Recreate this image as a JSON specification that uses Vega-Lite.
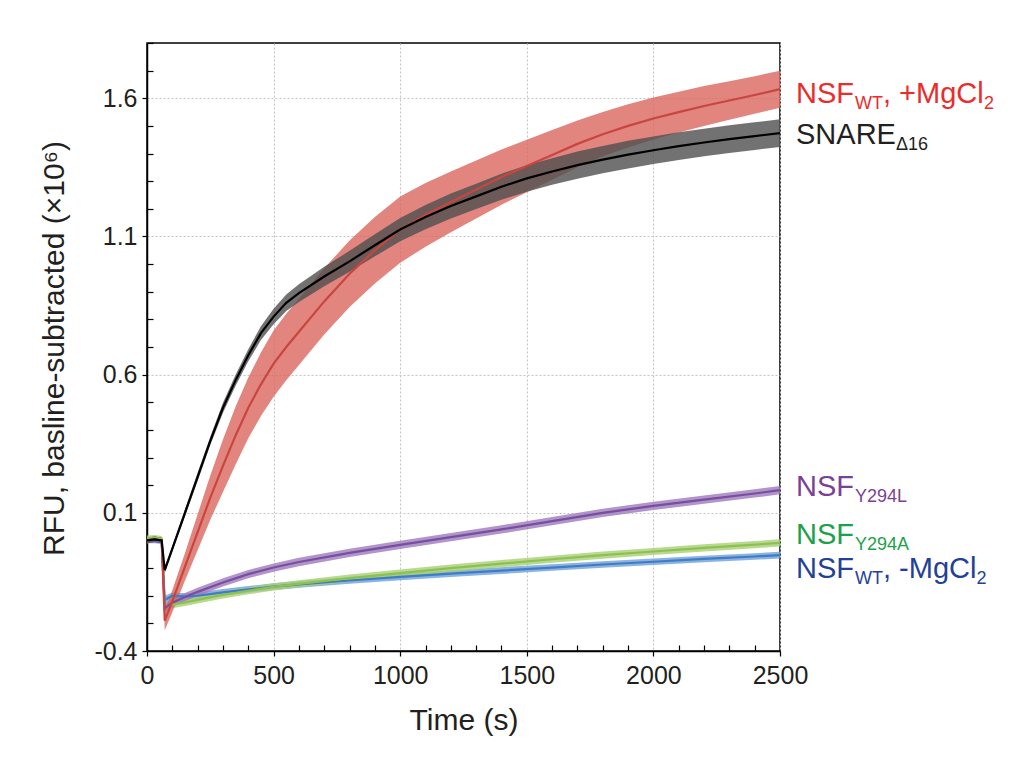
{
  "$schema": "https://vega.github.io/schema/vega-lite/v6.json",
  "width": 633,
  "height": 608,
  "autosize": {"type": "none"},
  "padding": {"left": 147, "top": 43, "right": 249, "bottom": 113},
  "background": "white",
  "config": {
    "font": "Liberation Sans",
    "view": {"stroke": "#000", "strokeWidth": 1.5},
    "axis": {
      "domainColor": "#000", "domainWidth": 1.5, "tickColor": "#000", "tickWidth": 1.2,
      "labelColor": "#231f20", "titleColor": "#231f20", "labelFont": "Liberation Sans",
      "titleFont": "Liberation Sans", "titleFontWeight": "normal",
      "gridColor": "#c4c4c4", "gridDash": [2, 2], "gridWidth": 1
    }
  },
  "datasets": {
    "curves": [
      {"s":"blue","t":0,"v":0.0,"sd":0.01},{"s":"blue","t":30,"v":0.0,"sd":0.01},{"s":"blue","t":58,"v":-0.003,"sd":0.01},{"s":"blue","t":70,"v":-0.215,"sd":0.015},{"s":"blue","t":100,"v":-0.2,"sd":0.012},{"s":"blue","t":150,"v":-0.203,"sd":0.012},{"s":"blue","t":200,"v":-0.2,"sd":0.012},{"s":"blue","t":300,"v":-0.188,"sd":0.012},{"s":"blue","t":400,"v":-0.177,"sd":0.012},{"s":"blue","t":500,"v":-0.167,"sd":0.012},{"s":"blue","t":600,"v":-0.159,"sd":0.012},{"s":"blue","t":800,"v":-0.145,"sd":0.012},{"s":"blue","t":1000,"v":-0.132,"sd":0.012},{"s":"blue","t":1200,"v":-0.12,"sd":0.012},{"s":"blue","t":1400,"v":-0.109,"sd":0.012},{"s":"blue","t":1600,"v":-0.098,"sd":0.012},{"s":"blue","t":1800,"v":-0.087,"sd":0.012},{"s":"blue","t":2000,"v":-0.077,"sd":0.012},{"s":"blue","t":2200,"v":-0.067,"sd":0.012},{"s":"blue","t":2400,"v":-0.058,"sd":0.012},{"s":"blue","t":2500,"v":-0.053,"sd":0.012},
      {"s":"green","t":0,"v":0.008,"sd":0.01},{"s":"green","t":30,"v":0.01,"sd":0.01},{"s":"green","t":58,"v":0.006,"sd":0.01},{"s":"green","t":70,"v":-0.24,"sd":0.013},{"s":"green","t":100,"v":-0.232,"sd":0.013},{"s":"green","t":150,"v":-0.224,"sd":0.013},{"s":"green","t":200,"v":-0.215,"sd":0.013},{"s":"green","t":300,"v":-0.197,"sd":0.013},{"s":"green","t":400,"v":-0.182,"sd":0.013},{"s":"green","t":500,"v":-0.168,"sd":0.013},{"s":"green","t":600,"v":-0.157,"sd":0.013},{"s":"green","t":800,"v":-0.136,"sd":0.013},{"s":"green","t":1000,"v":-0.118,"sd":0.013},{"s":"green","t":1200,"v":-0.1,"sd":0.013},{"s":"green","t":1400,"v":-0.084,"sd":0.013},{"s":"green","t":1600,"v":-0.068,"sd":0.013},{"s":"green","t":1800,"v":-0.053,"sd":0.013},{"s":"green","t":2000,"v":-0.04,"sd":0.013},{"s":"green","t":2200,"v":-0.027,"sd":0.013},{"s":"green","t":2400,"v":-0.015,"sd":0.013},{"s":"green","t":2500,"v":-0.009,"sd":0.013},
      {"s":"purple","t":0,"v":0.0,"sd":0.01},{"s":"purple","t":30,"v":0.003,"sd":0.01},{"s":"purple","t":58,"v":0.0,"sd":0.01},{"s":"purple","t":70,"v":-0.245,"sd":0.015},{"s":"purple","t":100,"v":-0.225,"sd":0.015},{"s":"purple","t":150,"v":-0.205,"sd":0.015},{"s":"purple","t":200,"v":-0.186,"sd":0.015},{"s":"purple","t":300,"v":-0.152,"sd":0.015},{"s":"purple","t":400,"v":-0.122,"sd":0.015},{"s":"purple","t":500,"v":-0.098,"sd":0.015},{"s":"purple","t":600,"v":-0.078,"sd":0.015},{"s":"purple","t":800,"v":-0.045,"sd":0.015},{"s":"purple","t":1000,"v":-0.016,"sd":0.015},{"s":"purple","t":1200,"v":0.012,"sd":0.015},{"s":"purple","t":1400,"v":0.04,"sd":0.015},{"s":"purple","t":1600,"v":0.07,"sd":0.015},{"s":"purple","t":1800,"v":0.1,"sd":0.015},{"s":"purple","t":2000,"v":0.125,"sd":0.015},{"s":"purple","t":2200,"v":0.148,"sd":0.015},{"s":"purple","t":2400,"v":0.17,"sd":0.015},{"s":"purple","t":2500,"v":0.182,"sd":0.015},
      {"s":"red","t":0,"v":0.0,"sd":0.01},{"s":"red","t":30,"v":0.004,"sd":0.01},{"s":"red","t":58,"v":0.0,"sd":0.01},{"s":"red","t":70,"v":-0.29,"sd":0.035},{"s":"red","t":100,"v":-0.22,"sd":0.04},{"s":"red","t":150,"v":-0.095,"sd":0.05},{"s":"red","t":200,"v":0.03,"sd":0.065},{"s":"red","t":250,"v":0.155,"sd":0.08},{"s":"red","t":300,"v":0.27,"sd":0.095},{"s":"red","t":350,"v":0.38,"sd":0.105},{"s":"red","t":400,"v":0.48,"sd":0.11},{"s":"red","t":450,"v":0.565,"sd":0.115},{"s":"red","t":500,"v":0.64,"sd":0.12},{"s":"red","t":550,"v":0.7,"sd":0.12},{"s":"red","t":600,"v":0.755,"sd":0.12},{"s":"red","t":700,"v":0.865,"sd":0.12},{"s":"red","t":800,"v":0.965,"sd":0.12},{"s":"red","t":900,"v":1.05,"sd":0.12},{"s":"red","t":1000,"v":1.125,"sd":0.12},{"s":"red","t":1100,"v":1.178,"sd":0.115},{"s":"red","t":1200,"v":1.225,"sd":0.11},{"s":"red","t":1300,"v":1.27,"sd":0.105},{"s":"red","t":1400,"v":1.315,"sd":0.1},{"s":"red","t":1500,"v":1.355,"sd":0.095},{"s":"red","t":1600,"v":1.395,"sd":0.09},{"s":"red","t":1700,"v":1.435,"sd":0.085},{"s":"red","t":1800,"v":1.47,"sd":0.08},{"s":"red","t":1900,"v":1.5,"sd":0.078},{"s":"red","t":2000,"v":1.527,"sd":0.076},{"s":"red","t":2100,"v":1.55,"sd":0.074},{"s":"red","t":2200,"v":1.572,"sd":0.072},{"s":"red","t":2300,"v":1.592,"sd":0.07},{"s":"red","t":2400,"v":1.612,"sd":0.068},{"s":"red","t":2500,"v":1.633,"sd":0.067},
      {"s":"black","t":0,"v":0.0,"sd":0.01},{"s":"black","t":30,"v":0.004,"sd":0.01},{"s":"black","t":58,"v":0.0,"sd":0.01},{"s":"black","t":70,"v":-0.107,"sd":0.012},{"s":"black","t":100,"v":-0.03,"sd":0.012},{"s":"black","t":150,"v":0.1,"sd":0.013},{"s":"black","t":200,"v":0.23,"sd":0.015},{"s":"black","t":250,"v":0.36,"sd":0.015},{"s":"black","t":300,"v":0.48,"sd":0.018},{"s":"black","t":350,"v":0.58,"sd":0.02},{"s":"black","t":400,"v":0.67,"sd":0.022},{"s":"black","t":450,"v":0.75,"sd":0.025},{"s":"black","t":500,"v":0.81,"sd":0.028},{"s":"black","t":550,"v":0.86,"sd":0.03},{"s":"black","t":600,"v":0.895,"sd":0.032},{"s":"black","t":700,"v":0.955,"sd":0.035},{"s":"black","t":800,"v":1.01,"sd":0.038},{"s":"black","t":900,"v":1.068,"sd":0.04},{"s":"black","t":1000,"v":1.125,"sd":0.042},{"s":"black","t":1100,"v":1.17,"sd":0.044},{"s":"black","t":1200,"v":1.21,"sd":0.045},{"s":"black","t":1300,"v":1.245,"sd":0.046},{"s":"black","t":1400,"v":1.28,"sd":0.047},{"s":"black","t":1500,"v":1.31,"sd":0.048},{"s":"black","t":1600,"v":1.335,"sd":0.048},{"s":"black","t":1700,"v":1.358,"sd":0.049},{"s":"black","t":1800,"v":1.378,"sd":0.049},{"s":"black","t":1900,"v":1.396,"sd":0.05},{"s":"black","t":2000,"v":1.412,"sd":0.05},{"s":"black","t":2100,"v":1.427,"sd":0.05},{"s":"black","t":2200,"v":1.44,"sd":0.05},{"s":"black","t":2300,"v":1.452,"sd":0.05},{"s":"black","t":2400,"v":1.463,"sd":0.05},{"s":"black","t":2500,"v":1.474,"sd":0.05}
    ],
    "labels": [
      {"s":"red","t":2500,"v":1.584,"main":"NSF","sub":"WT","tail":", +MgCl","tsub":"2"},
      {"s":"black","t":2500,"v":1.436,"main":"SNARE","sub":"Δ16"},
      {"s":"purple","t":2500,"v":0.162,"main":"NSF","sub":"Y294L"},
      {"s":"green","t":2500,"v":-0.012,"main":"NSF","sub":"Y294A"},
      {"s":"blue","t":2500,"v":-0.136,"main":"NSF","sub":"WT","tail":", -MgCl","tsub":"2"}
    ]
  },
  "layer": [
    {
      "data": {"name": "curves"},
      "mark": {"type": "errorband", "opacity": 0.8},
      "encoding": {
        "x": {"field": "t", "type": "quantitative", "scale": {"domain": [0, 2500], "nice": false, "zero": false},
          "axis": {"orient": "bottom", "tickCount": 100,
            "values": [0,100,200,300,400,500,600,700,800,900,1000,1100,1200,1300,1400,1500,1600,1700,1800,1900,2000,2100,2200,2300,2400,2500],
            "labelExpr": "datum.value % 500 === 0 ? format(datum.value, 'd') : ''",
            "tickSize": {"condition": {"test": "datum.value % 500 === 0", "value": 5}, "value": -6},
            "gridOpacity": {"condition": {"test": "datum.value % 500 === 0", "value": 1}, "value": 0},
            "labelFontSize": 25, "labelPadding": 7, "labelFlush": false, "labelOverlap": false, "grid": true,
            "title": "Time (s)", "titleFontSize": 30, "titleX": 316.5, "titleY": 78, "titleBaseline": "alphabetic", "titleAlign": "center"}},
        "y": {"field": "v", "type": "quantitative", "scale": {"domain": [-0.4, 1.8], "nice": false, "zero": false},
          "axis": {"orient": "left", "tickCount": 100,
            "values": [-0.4,-0.3,-0.2,-0.1,0,0.1,0.2,0.3,0.4,0.5,0.6,0.7,0.8,0.9,1.0,1.1,1.2,1.3,1.4,1.5,1.6,1.7,1.8],
            "labelExpr": "round(datum.value*10+4) % 5 === 0 ? replace(format(datum.value, '.1f'), '−', '-') : ''",
            "tickSize": {"condition": {"test": "round(datum.value*10+4) % 5 === 0", "value": 5}, "value": -6},
            "gridOpacity": {"condition": {"test": "round(datum.value*10+4) % 5 === 0", "value": 1}, "value": 0},
            "labelFontSize": 25, "labelPadding": 5, "labelOverlap": false, "grid": true,
            "title": "RFU, basline-subtracted (×10⁶)", "titleFontSize": 30, "titleAngle": -90, "titleX": -84, "titleY": 305, "titleBaseline": "alphabetic", "titleAlign": "center"}},
        "yError": {"field": "sd"},
        "color": {"field": "s", "type": "nominal", "legend": null,
          "scale": {"domain": ["blue", "green", "purple", "red", "black"], "range": ["#6f9fd8", "#a8cf73", "#9c7bbd", "#d9665e", "#4f4f4f"]}}
      }
    },
    {
      "data": {"name": "curves"},
      "mark": {"type": "line", "strokeWidth": 2.2},
      "encoding": {
        "x": {"field": "t", "type": "quantitative"},
        "y": {"field": "v", "type": "quantitative"},
        "color": {"field": "s", "type": "nominal", "legend": null,
          "scale": {"domain": ["blue", "green", "purple", "red", "black"], "range": ["#3d7cc7", "#8cc152", "#7a4d9e", "#c8463f", "#000000"]}}
      }
    },
    {
      "data": {"name": "labels"},
      "encoding": {
        "x": {"field": "t", "type": "quantitative"},
        "y": {"field": "v", "type": "quantitative"},
        "color": {"field": "s", "type": "nominal", "legend": null,
          "scale": {"domain": ["blue", "green", "purple", "red", "black"], "range": ["#233f99", "#1ca14b", "#7b3f98", "#ec2b2b", "#231f20"]}}
      },
      "layer": [
        {"mark": {"type": "text", "align": "left", "baseline": "alphabetic", "dx": 16, "fontSize": 29}, "encoding": {"text": {"field": "main"}}},
        {"transform": [{"filter": "datum.main === 'NSF'"}], "mark": {"type": "text", "align": "left", "baseline": "alphabetic", "dx": 75, "dy": 6, "fontSize": 18}, "encoding": {"text": {"field": "sub"}}},
        {"transform": [{"filter": "datum.main === 'SNARE'"}], "mark": {"type": "text", "align": "left", "baseline": "alphabetic", "dx": 116, "dy": 6, "fontSize": 18}, "encoding": {"text": {"field": "sub"}}},
        {"transform": [{"filter": "datum.tail"}], "mark": {"type": "text", "align": "left", "baseline": "alphabetic", "dx": 103, "fontSize": 29}, "encoding": {"text": {"field": "tail"}}},
        {"transform": [{"filter": "datum.tail === ', +MgCl'"}], "mark": {"type": "text", "align": "left", "baseline": "alphabetic", "dx": 204, "dy": 6, "fontSize": 18}, "encoding": {"text": {"field": "tsub"}}},
        {"transform": [{"filter": "datum.tail === ', -MgCl'"}], "mark": {"type": "text", "align": "left", "baseline": "alphabetic", "dx": 196.5, "dy": 6, "fontSize": 18}, "encoding": {"text": {"field": "tsub"}}}
      ]
    }
  ],
  "resolve": {"scale": {"color": "independent"}}
}
